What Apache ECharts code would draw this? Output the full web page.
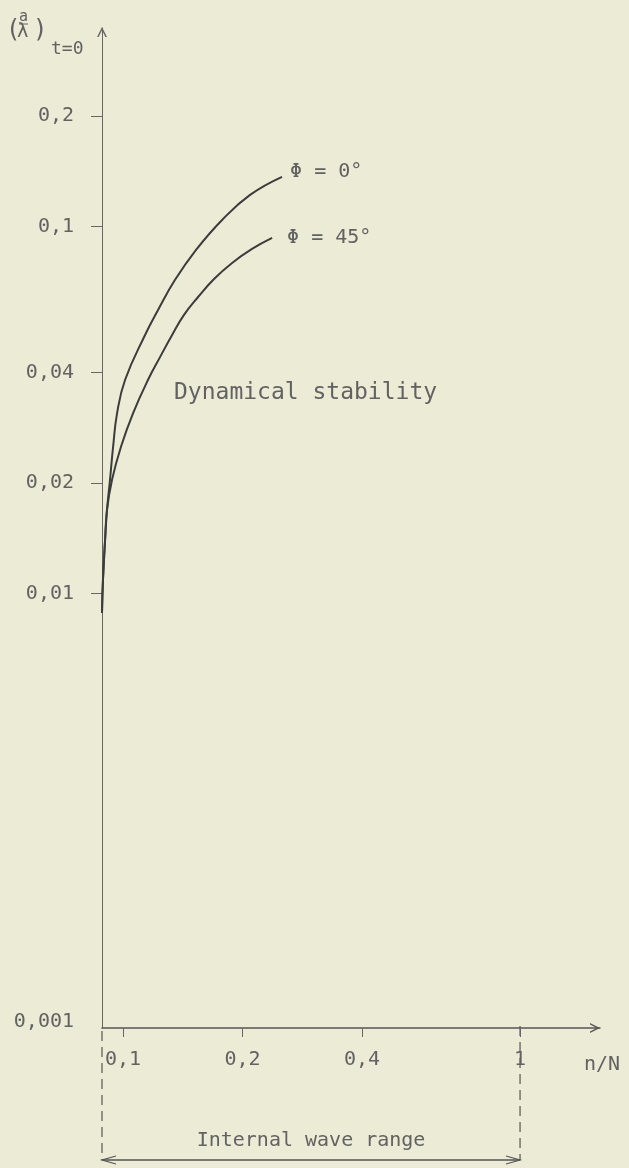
<!DOCTYPE html>
<html>
<head>
<meta charset="utf-8">
<script src="https://cdn.jsdelivr.net/npm/echarts@6/dist/echarts.min.js"></script>
<style>
  html, body { margin: 0; padding: 0; background: #ecebd6; }
  #chart { width: 629px; height: 1168px; }
</style>
</head>
<body>
<div id="chart"></div>
<script>
  // curve points (bottom to top)
  const phi0X = [0.0885, 0.0890, 0.0901, 0.0911, 0.0927, 0.0944, 0.0966, 0.1012, 0.1136, 0.1225, 0.1352, 0.1527, 0.1776, 0.2089, 0.2515]
  const phi0Y = [0.00885, 0.01088, 0.0140, 0.01688, 0.0204, 0.0251, 0.0310, 0.0382, 0.0506, 0.0592, 0.0715, 0.0863, 0.1041, 0.1218, 0.1364]
  const phi45X = [0.0885, 0.0890, 0.0901, 0.0911, 0.0938, 0.0988, 0.1060, 0.1156, 0.1240, 0.1329, 0.1424, 0.1545, 0.1695, 0.1882, 0.2113, 0.2374]
  const phi45Y = [0.00885, 0.01088, 0.0140, 0.01688, 0.0204, 0.0251, 0.0310, 0.0382, 0.0441, 0.0506, 0.0574, 0.0642, 0.0719, 0.0795, 0.0868, 0.0930]

  const xTicks = [0.1, 0.2, 0.4, 1]
  const yTicks = [0.01, 0.02, 0.04, 0.1, 0.2]
  const xMin = 0.0885
  const xMax = 1.59
  const yMin = 0.000655   // origin, labelled 0,001 in the drawing (broken axis)
  const yMax = 0.347

  const font = 'DejaVu Sans Mono'
  const ink = '#3c3c3c'
  const textInk = '#626262'
  const openArrow = 'path://M0,10 L5,0 L10,10 L8.4,10 L5,3.2 L1.6,10 Z'

  function pairs(xs, ys) {
    const out = []
    for (let i = 0; i < xs.length; i++) {
      out.push([xs[i], ys[i]])
    }
    return out
  }

  function comma(v) {
    return String(v).replace('.', ',')
  }

  const chart = echarts.init(document.getElementById('chart'))

  const option = {
    backgroundColor: '#ecebd6',
    animation: false,
    grid: {
      left: 102,
      right: 29,
      top: 28,
      bottom: 140,
      containLabel: false
    },
    xAxis: {
      type: 'log',
      min: xMin,
      max: xMax,
      name: 'n/N',
      nameLocation: 'end',
      nameGap: -16,
      nameTextStyle: {
        fontFamily: font,
        fontSize: 20,
        color: textInk,
        align: 'left',
        verticalAlign: 'top',
        padding: [27, 0, 0, 0]
      },
      axisLine: {
        lineStyle: { color: '#555', width: 1.5 },
        symbol: ['none', openArrow],
        symbolSize: [10, 18],
        symbolOffset: [0, -5]
      },
      axisTick: {
        customValues: xTicks,
        length: 9,
        lineStyle: { color: '#666' }
      },
      axisLabel: {
        customValues: xTicks,
        margin: 22,
        fontFamily: font,
        fontSize: 20,
        color: textInk,
        formatter: function (v) { return comma(v) }
      },
      splitLine: { show: false },
      minorTick: { show: false }
    },
    yAxis: {
      type: 'log',
      min: yMin,
      max: yMax,
      axisLine: {
        lineStyle: { color: '#666', width: 1 },
        symbol: ['none', openArrow],
        symbolSize: [10, 16],
        symbolOffset: [0, -4]
      },
      axisTick: {
        customValues: yTicks,
        length: 11,
        lineStyle: { color: '#666' }
      },
      axisLabel: {
        customValues: [yMin].concat(yTicks),
        margin: 28,
        fontFamily: font,
        fontSize: 20,
        color: textInk,
        formatter: function (v) {
          if (v < 0.001) return '{o|0,001}'
          return comma(v)
        },
        rich: {
          o: { fontFamily: font, fontSize: 20, color: textInk, padding: [0, 0, 12, 0] }
        }
      },
      splitLine: { show: false },
      minorTick: { show: false }
    },
    series: [
      {
        name: 'Φ = 0°',
        type: 'line',
        data: pairs(phi0X, phi0Y),
        smooth: 0.45,
        showSymbol: false,
        lineStyle: { color: ink, width: 2 },
        endLabel: {
          show: true,
          formatter: 'Φ = 0°',
          offset: [0, -5],
          fontFamily: font,
          fontSize: 20,
          color: textInk
        }
      },
      {
        name: 'Φ = 45°',
        type: 'line',
        data: pairs(phi45X, phi45Y),
        smooth: 0.45,
        showSymbol: false,
        lineStyle: { color: ink, width: 2 },
        endLabel: {
          show: true,
          formatter: 'Φ = 45°',
          offset: [7, 0],
          fontFamily: font,
          fontSize: 20,
          color: textInk
        }
      }
    ]
  }
  chart.setOption(option)

  // annotations: y-axis title, region text and the internal-wave bracket
  const left = chart.convertToPixel({ xAxisIndex: 0 }, xMin)
  const right = chart.convertToPixel({ xAxisIndex: 0 }, 1)
  const txt = { fontFamily: font, fill: textInk }
  const dash = { stroke: '#555', lineWidth: 1.2, lineDash: [10, 6] }
  const bracketY = 1160

  chart.setOption({
    graphic: [
      { type: 'text', left: 6, top: 19, style: Object.assign({ text: '(', fontSize: 24 }, txt) },
      { type: 'text', left: 19, top: 10, style: Object.assign({ text: 'a', fontSize: 15 }, txt) },
      { type: 'line', shape: { x1: 19, y1: 24, x2: 28, y2: 24 }, style: { stroke: textInk, lineWidth: 1 } },
      { type: 'text', left: 17, top: 23, style: Object.assign({ text: 'λ', fontSize: 19 }, txt) },
      { type: 'text', left: 33, top: 19, style: Object.assign({ text: ')', fontSize: 24 }, txt) },
      { type: 'text', left: 51, top: 40, style: Object.assign({ text: 't=0', fontSize: 18 }, txt) },
      { type: 'text', left: 174, top: 382, style: Object.assign({ text: 'Dynamical stability', fontSize: 23 }, txt) },
      { type: 'line', shape: { x1: left, y1: 1031, x2: left, y2: bracketY }, style: dash },
      { type: 'line', shape: { x1: right, y1: 1026, x2: right, y2: bracketY }, style: dash },
      { type: 'line', shape: { x1: left, y1: bracketY, x2: right, y2: bracketY }, style: { stroke: '#555', lineWidth: 1.5 } },
      { type: 'polyline', shape: { points: [[left + 14, bracketY - 4], [left, bracketY], [left + 14, bracketY + 4]] }, style: { stroke: '#555', lineWidth: 1.2, fill: null } },
      { type: 'polyline', shape: { points: [[right - 14, bracketY - 4], [right, bracketY], [right - 14, bracketY + 4]] }, style: { stroke: '#555', lineWidth: 1.2, fill: null } },
      { type: 'text', x: (left + right) / 2, y: 1141, style: Object.assign({ text: 'Internal wave range', fontSize: 20, textAlign: 'center', textVerticalAlign: 'middle' }, txt) }
    ]
  })
</script>
</body>
</html>
